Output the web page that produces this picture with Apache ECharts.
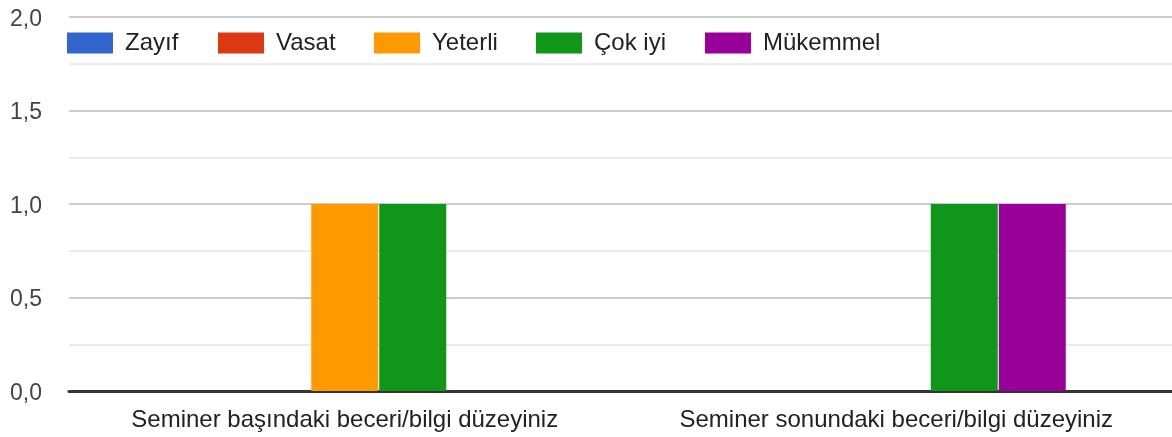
<!DOCTYPE html>
<html>
<head>
<meta charset="utf-8">
<script src="https://cdn.jsdelivr.net/npm/echarts@6/dist/echarts.min.js"></script>
<style>
html,body{margin:0;padding:0;background:#fff;}
#chart{width:1172px;height:437px;}
</style>
</head>
<body>
<div id="chart"></div>
<script>
const categories = ['Seminer başındaki beceri/bilgi düzeyiniz', 'Seminer sonundaki beceri/bilgi düzeyiniz'];
const seriesNames = ['Zayıf', 'Vasat', 'Yeterli', 'Çok iyi', 'Mükemmel'];
const zayif = [0, 0];
const vasat = [0, 0];
const yeterli = [1, 0];
const cokIyi = [1, 1];
const mukemmel = [0, 1];
const yTicks = [0, 0.5, 1, 1.5, 2];
const colors = ['#3366cc', '#dc3912', '#ff9900', '#109618', '#990099'];

const values = [zayif, vasat, yeterli, cokIyi, mukemmel];
const FONT = 'Liberation Sans, Arial, sans-serif';
const legendLefts = [67, 218, 374, 536, 705];

const chart = echarts.init(document.getElementById('chart'), null, {renderer: 'canvas'});
chart.setOption({
  animation: false,
  color: colors,
  textStyle: {fontFamily: FONT},
  legend: seriesNames.map((n, i) => ({
    left: legendLefts[i], top: 31, padding: 0,
    itemWidth: 46, itemHeight: 21,
    icon: 'rect',
    textStyle: {fontSize: 24, color: '#222', fontFamily: FONT, padding: [0, 0, 0, 7]},
    data: [n]
  })),
  grid: {left: 69, right: 0, top: 17, bottom: 46, containLabel: false},
  xAxis: {
    type: 'category',
    data: categories,
    axisLine: {show: true, lineStyle: {color: '#333', width: 3}},
    axisTick: {show: false},
    axisLabel: {fontSize: 24, color: '#222', margin: 17, interval: 0, fontFamily: FONT},
    splitLine: {show: false}
  },
  yAxis: {
    type: 'value',
    min: yTicks[0], max: yTicks[yTicks.length - 1], interval: 0.5,
    axisLine: {show: false},
    axisTick: {show: false},
    axisLabel: {
      fontSize: 23, color: '#444', margin: 27, fontFamily: FONT,
      verticalAlign: 'top', lineHeight: 5,
      formatter: v => v.toFixed(1).replace('.', ',')
    },
    splitLine: {show: true, lineStyle: {color: '#cccccc', width: 2}},
    minorTick: {show: false, splitNumber: 2},
    minorSplitLine: {show: true, lineStyle: {color: '#ebebeb', width: 2}}
  },
  series: seriesNames.map((n, i) => ({
    name: n,
    type: 'bar',
    data: values[i],
    barWidth: 67,
    barGap: '1.5%',
    itemStyle: {color: colors[i]}
  }))
});
</script>
</body>
</html>
